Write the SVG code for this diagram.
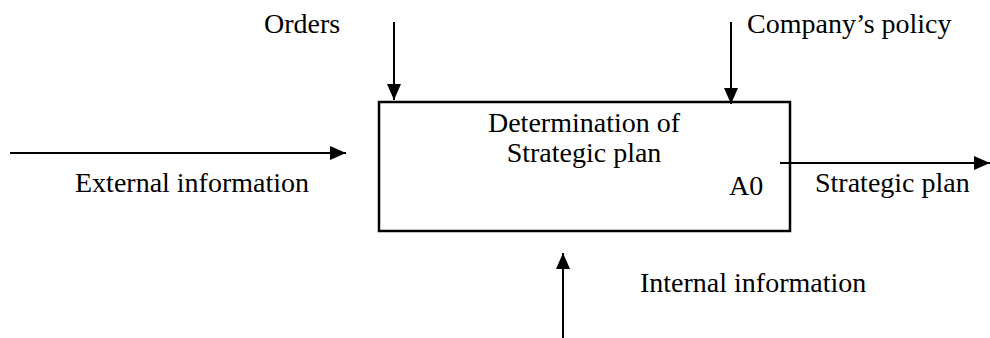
<svg xmlns="http://www.w3.org/2000/svg" width="990" height="338" viewBox="0 0 990 338">
<style>
.t{font-family:"Liberation Serif","Times New Roman",serif;font-size:28px;fill:#000}
.c{stroke:#000;stroke-width:2;fill:none}
</style>
<defs>
<marker id="ah" viewBox="0 0 16 14" refX="16" refY="7" markerWidth="16" markerHeight="14" markerUnits="userSpaceOnUse" orient="auto">
<path d="M0,0 L16,7 L0,14 Z" fill="#000"/>
</marker>
</defs>
<rect width="990" height="338" fill="#fff"/>
<g id="node-A0">
<rect x="379" y="102" width="411" height="129" fill="#fff" stroke="#000" stroke-width="2.5"/>
<text class="t" x="584" y="132" text-anchor="middle">Determination of</text>
<text class="t" x="584" y="162" text-anchor="middle">Strategic plan</text>
<text class="t" x="729" y="195">A0</text>
</g>
<g id="connectors">
<line class="c" x1="394" y1="22" x2="394" y2="100" marker-end="url(#ah)"/>
<line class="c" x1="731" y1="22" x2="731" y2="104" marker-end="url(#ah)"/>
<line class="c" x1="10" y1="153" x2="346" y2="153" marker-end="url(#ah)"/>
<line class="c" x1="780" y1="163" x2="990" y2="163" marker-end="url(#ah)"/>
<line class="c" x1="563" y1="338" x2="563" y2="253" marker-end="url(#ah)"/>
</g>
<g id="labels">
<text class="t" x="264" y="33">Orders</text>
<text class="t" x="747" y="33">Company’s policy</text>
<text class="t" x="75" y="192">External information</text>
<text class="t" x="815" y="192">Strategic plan</text>
<text class="t" x="640" y="292">Internal information</text>
</g>
</svg>
